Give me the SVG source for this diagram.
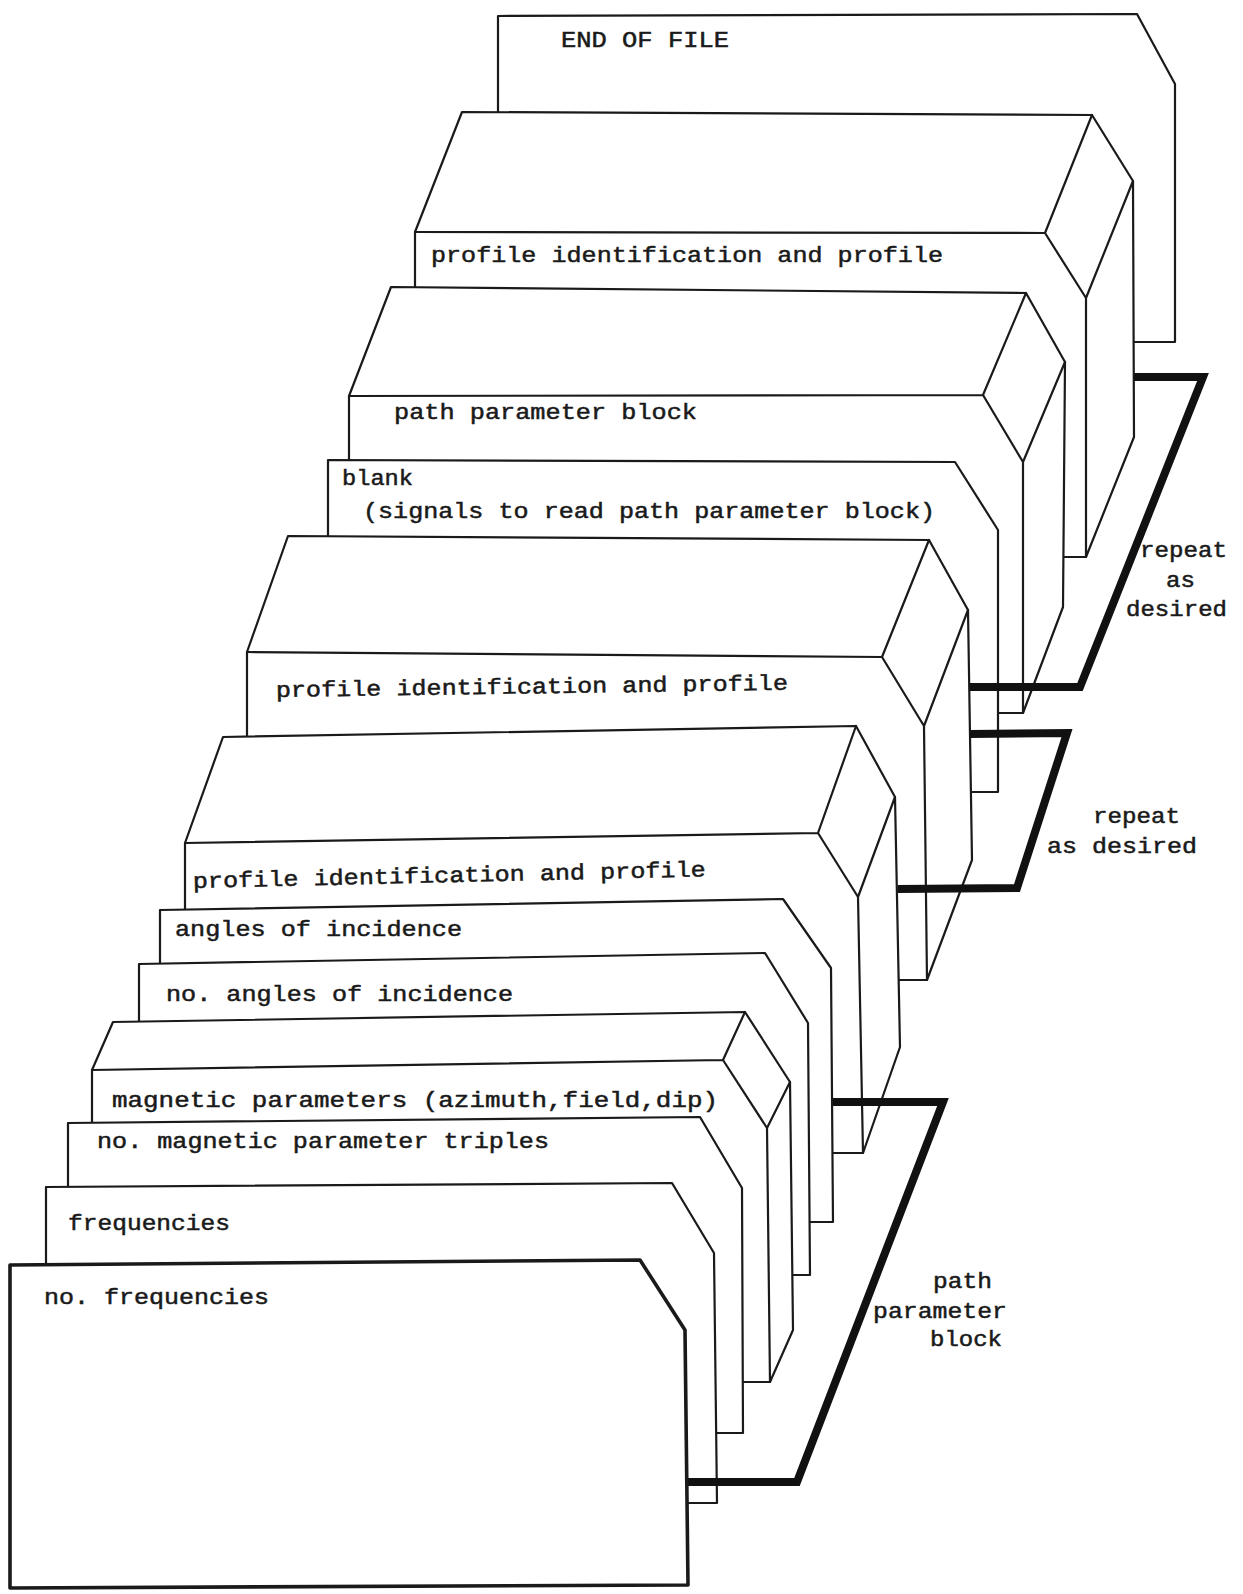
<svg xmlns="http://www.w3.org/2000/svg" width="1243" height="1594" viewBox="0 0 1243 1594">
<style>
.card{fill:#fff;stroke:#1a1a1a;stroke-width:2.2;stroke-linejoin:round}
.edge{fill:none;stroke:#1a1a1a;stroke-width:2.2;stroke-linejoin:round;stroke-linecap:round}
.heavy{stroke-width:3.6}
.t{font-family:"Liberation Mono","Courier New",monospace;font-size:22px;fill:#1a1a1a;stroke:#1a1a1a;stroke-width:0.5}
.br{fill:none;stroke:#111;stroke-width:8;stroke-linejoin:miter;stroke-linecap:butt}
</style>
<rect width="1243" height="1594" fill="#fff"/>

<g id="card-end-of-file">
<path class="card" d="M498,342 L498,16 L1137,14 L1175,84 L1175,342 Z"/>
<text class="t" x="561" y="47" textLength="168" lengthAdjust="spacingAndGlyphs">END OF FILE</text>
</g>

<g id="block-profile-1">
<path class="card" d="M462,112 L1092,115 L1133,181 L1134,437 L1086,557 L415,557 L415,232 Z"/>
<path class="edge" d="M415,232 L1045,233 L1092,115 M1045,233 L1086,298 L1133,181 M1086,298 L1086,557"/>
<text class="t" x="431" y="262" textLength="512" lengthAdjust="spacingAndGlyphs">profile identification and profile</text>
</g>

<g id="block-path-parameter">
<path class="card" d="M391,287 L1026,293 L1065,362 L1063,607 L1023,713 L349,713 L349,396 Z"/>
<path class="edge" d="M349,396 L983,395 L1026,293 M983,395 L1023,462 L1065,362 M1023,462 L1023,713"/>
<text class="t" x="394" y="419" textLength="303" lengthAdjust="spacingAndGlyphs">path parameter block</text>
</g>

<g id="card-blank">
<path class="card" d="M328,460 L955,462 L998,530 L998,792 L328,792 Z"/>
<text class="t" x="342" y="485" textLength="71" lengthAdjust="spacingAndGlyphs">blank</text>
<text class="t" x="363" y="518" textLength="572" lengthAdjust="spacingAndGlyphs">(signals to read path parameter block)</text>
</g>

<g id="block-profile-2">
<path class="card" d="M288,536 L929,540 L968,610 L972,860 L927,980 L247,980 L247,652 Z"/>
<path class="edge" d="M247,652 L882,657 L929,540 M882,657 L924,726 L968,610 M924,726 L927,980"/>
<text class="t" x="276" y="697" textLength="512" lengthAdjust="spacingAndGlyphs" transform="rotate(-0.8 276 697)">profile identification and profile</text>
</g>

<g id="block-profile-3">
<path class="card" d="M223,737 L856,726 L895,797 L900,1047 L863,1153 L185,1153 L185,843 Z"/>
<path class="edge" d="M185,843 L818,833 L856,726 M818,833 L858,897 L895,797 M858,897 L863,1153"/>
<text class="t" x="193" y="888" textLength="513" lengthAdjust="spacingAndGlyphs" transform="rotate(-1.3 193 888)">profile identification and profile</text>
</g>

<g id="card-angles-of-incidence">
<path class="card" d="M160,910 L783,899 L831,968 L833,1222 L160,1222 Z"/>
<text class="t" x="175" y="936" textLength="287" lengthAdjust="spacingAndGlyphs">angles of incidence</text>
</g>

<g id="card-no-angles-of-incidence">
<path class="card" d="M139,964 L765,953 L808,1023 L810,1275 L139,1275 Z"/>
<text class="t" x="166" y="1001" textLength="347" lengthAdjust="spacingAndGlyphs">no. angles of incidence</text>
</g>

<g id="block-magnetic-parameters">
<path class="card" d="M113,1022 L745,1012 L790,1082 L793,1330 L770,1382 L92,1382 L92,1070 Z"/>
<path class="edge" d="M92,1070 L723,1060 L745,1012 M723,1060 L767,1128 L790,1082 M767,1128 L770,1382"/>
<text class="t" x="112" y="1107" textLength="606" lengthAdjust="spacingAndGlyphs">magnetic parameters  (azimuth,field,dip)</text>
</g>

<g id="card-no-magnetic-triples">
<path class="card" d="M68,1123 L700,1117 L742,1188 L743,1433 L68,1433 Z"/>
<text class="t" x="97" y="1148" textLength="452" lengthAdjust="spacingAndGlyphs">no. magnetic parameter triples</text>
</g>

<g id="card-frequencies">
<path class="card" d="M46,1187 L672,1183 L714,1253 L717,1503 L46,1503 Z"/>
<text class="t" x="68" y="1230" textLength="162" lengthAdjust="spacingAndGlyphs">frequencies</text>
</g>

<g id="card-no-frequencies">
<path class="card heavy" d="M10,1265 L640,1260 L685,1330 L688,1585 L10,1588 Z"/>
<text class="t" x="44" y="1304" textLength="225" lengthAdjust="spacingAndGlyphs">no. frequencies</text>
</g>

<g id="connectors">
<path class="br" d="M1134,377 L1203,377 L1080,687 L970,687"/>
<path class="br" d="M970,734 L1067,733 L1017,888 L898,889"/>
<path class="br" d="M833,1102 L943,1102 L797,1482 L688,1482"/>
</g>

<g id="labels">
<text class="t" x="1140" y="557" textLength="87" lengthAdjust="spacingAndGlyphs">repeat</text>
<text class="t" x="1166" y="587" textLength="29" lengthAdjust="spacingAndGlyphs">as</text>
<text class="t" x="1126" y="616" textLength="101" lengthAdjust="spacingAndGlyphs">desired</text>
<text class="t" x="1093" y="823" textLength="87" lengthAdjust="spacingAndGlyphs">repeat</text>
<text class="t" x="1047" y="853" textLength="150" lengthAdjust="spacingAndGlyphs">as desired</text>
<text class="t" x="933" y="1288" textLength="59" lengthAdjust="spacingAndGlyphs">path</text>
<text class="t" x="873" y="1318" textLength="134" lengthAdjust="spacingAndGlyphs">parameter</text>
<text class="t" x="930" y="1346" textLength="72" lengthAdjust="spacingAndGlyphs">block</text>
</g>
</svg>
